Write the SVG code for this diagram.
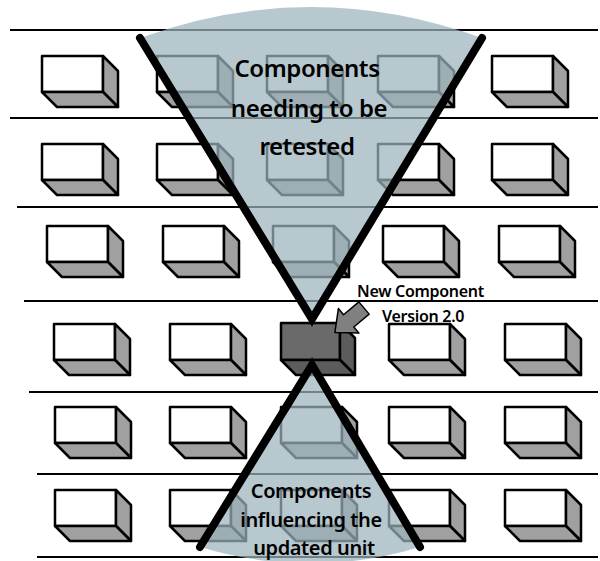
<svg xmlns="http://www.w3.org/2000/svg" xmlns:xlink="http://www.w3.org/1999/xlink" width="600" height="561" viewBox="0 0 600 561">
<style>
.hl{stroke:#000;stroke-width:2.2;fill:none}
.bf{fill:#fff;stroke:#000;stroke-width:2.5;stroke-linejoin:round}
.bs{fill:#a0a0a0;stroke:#000;stroke-width:2.5;stroke-linejoin:round}
.df{fill:#6a6a6a;stroke:#000;stroke-width:2.5;stroke-linejoin:round}
.ds{fill:#5c5c5c;stroke:#000;stroke-width:2.5;stroke-linejoin:round}
.shade{fill:#9db3bd;fill-opacity:0.72}
.vline{stroke:#000;stroke-width:8;fill:none;stroke-linecap:round;stroke-linejoin:miter}
.big{font-family:"Noto Sans","Liberation Sans",sans-serif;font-size:24px;font-weight:600;fill:#000;text-anchor:middle;letter-spacing:-0.4px}
.mid{font-family:"Noto Sans","Liberation Sans",sans-serif;font-size:20px;font-weight:600;fill:#000;text-anchor:middle;letter-spacing:-0.4px}
.lab{font-family:"Noto Sans","Liberation Sans",sans-serif;font-size:16px;font-weight:600;fill:#000;letter-spacing:-0.3px}
</style>
<defs>
<g id="box">
<rect class="bf" x="0" y="0" width="61" height="36"/>
<polygon class="bs" points="61,0 76,15 76,51 61,36"/>
<polygon class="bs" points="0,36 15,51 76,51 61,36"/>
</g>
<g id="dbox">
<rect class="df" x="0" y="0" width="59" height="37"/>
<polygon class="ds" points="59,0 74,15 74,52 59,37"/>
<polygon class="ds" points="0,37 15,52 74,52 59,37"/>
</g>
</defs>
<rect width="600" height="561" fill="#fff"/>
<g id="rows">
<line class="hl" x1="10" y1="30" x2="598" y2="30"/>
<line class="hl" x1="10" y1="118" x2="598" y2="118"/>
<line class="hl" x1="17" y1="207" x2="598" y2="207"/>
<line class="hl" x1="24" y1="301" x2="598" y2="301"/>
<line class="hl" x1="29" y1="392" x2="598" y2="392"/>
<line class="hl" x1="37" y1="474" x2="598" y2="474"/>
<line class="hl" x1="37" y1="557" x2="598" y2="557"/>
</g>
<g id="r1c1"><use xlink:href="#box" x="42" y="56"/></g>
<g id="r1c2"><use xlink:href="#box" x="157" y="56"/></g>
<g id="r1c3"><use xlink:href="#box" x="267" y="56"/></g>
<g id="r1c4"><use xlink:href="#box" x="378" y="56"/></g>
<g id="r1c5"><use xlink:href="#box" x="492" y="56"/></g>
<g id="r2c1"><use xlink:href="#box" x="42" y="144"/></g>
<g id="r2c2"><use xlink:href="#box" x="157" y="144"/></g>
<g id="r2c3"><use xlink:href="#box" x="267" y="144"/></g>
<g id="r2c4"><use xlink:href="#box" x="378" y="144"/></g>
<g id="r2c5"><use xlink:href="#box" x="492" y="144"/></g>
<g id="r3c1"><use xlink:href="#box" x="47" y="226"/></g>
<g id="r3c2"><use xlink:href="#box" x="163" y="226"/></g>
<g id="r3c3"><use xlink:href="#box" x="273" y="226"/></g>
<g id="r3c4"><use xlink:href="#box" x="383" y="226"/></g>
<g id="r3c5"><use xlink:href="#box" x="499" y="226"/></g>
<g id="r4c1"><use xlink:href="#box" x="54" y="324"/></g>
<g id="r4c2"><use xlink:href="#box" x="170" y="324"/></g>
<g id="r4c4"><use xlink:href="#box" x="389" y="324"/></g>
<g id="r4c5"><use xlink:href="#box" x="505" y="324"/></g>
<g id="r5c1"><use xlink:href="#box" x="55" y="407"/></g>
<g id="r5c2"><use xlink:href="#box" x="170" y="407"/></g>
<g id="r5c3"><use xlink:href="#box" x="281" y="407"/></g>
<g id="r5c4"><use xlink:href="#box" x="389" y="407"/></g>
<g id="r5c5"><use xlink:href="#box" x="505" y="407"/></g>
<g id="r6c1"><use xlink:href="#box" x="55" y="490"/></g>
<g id="r6c2"><use xlink:href="#box" x="170" y="490"/></g>
<g id="r6c3"><use xlink:href="#box" x="281" y="490"/></g>
<g id="r6c4"><use xlink:href="#box" x="389" y="490"/></g>
<g id="r6c5"><use xlink:href="#box" x="505" y="490"/></g>
<g id="newComponent"><use xlink:href="#dbox" x="281" y="323"/></g>
<g id="retestCone">
<path class="shade" d="M140,38 L312,319 L482,38 Q311,-24 140,38 Z"/>
<polyline class="vline" points="140,38 312,319 482,38"/>
</g>
<g id="influenceCone">
<path class="shade" d="M200,547 L312,365 L420,547 Q310,580 200,547 Z"/>
<polyline class="vline" points="200,547 312,365 420,547"/>
</g>
<g id="connectors">
<path d="M0,-8 L20,-8 L20,-16 L38,0 L20,16 L20,8 L0,8 Z" transform="translate(364,308) rotate(140)" fill="#808080" stroke="#000" stroke-width="1.5" stroke-linejoin="round"/>
</g>
<g id="labels">
<text class="big" x="307" y="77">Components</text>
<text class="big" x="309" y="117">needing to be</text>
<text class="big" x="307" y="155">retested</text>
<text class="mid" x="311" y="498">Components</text>
<text class="mid" x="311" y="527">influencing the</text>
<text class="mid" x="314" y="555">updated unit</text>
<text class="lab" x="357" y="297">New Component</text>
<text class="lab" x="382" y="322">Version 2.0</text>
</g>
</svg>
